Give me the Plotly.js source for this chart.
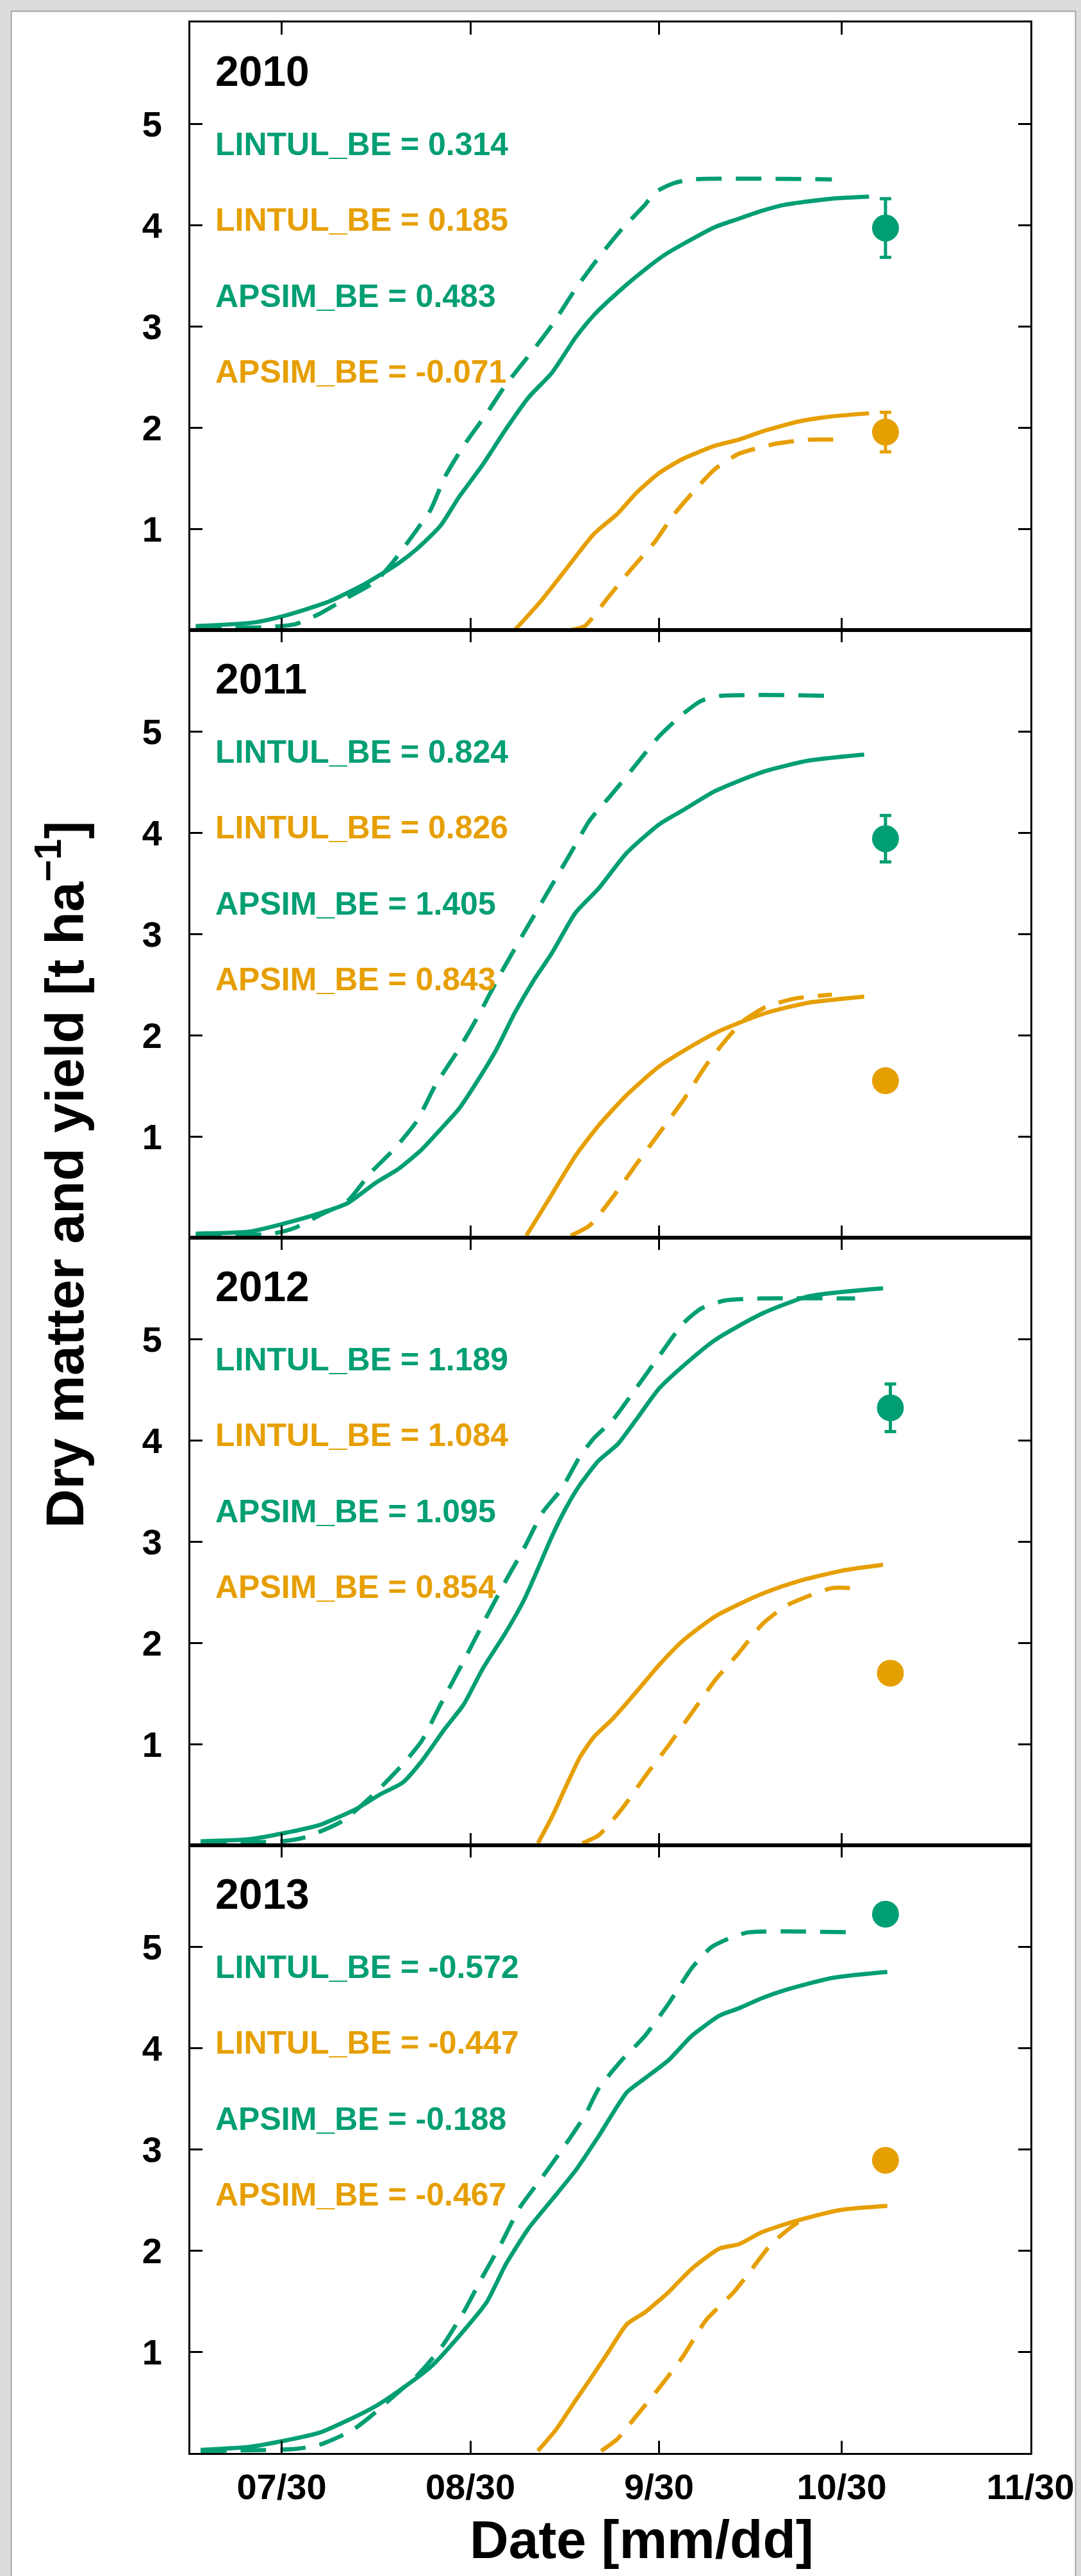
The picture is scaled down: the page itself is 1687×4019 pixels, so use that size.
<!DOCTYPE html>
<html>
<head>
<meta charset="utf-8">
<script src="https://cdn.plot.ly/plotly-3.0.1.min.js"></script>
<style>html,body{margin:0;padding:0;background:#fff;}#chart{width:1687px;height:4019px;}</style>
</head>
<body>
<div id="chart"></div>
<script>
// ---------------- DATA (x = day of year, y = t/ha) ----------------
const years = ['2010', '2011', '2012', '2013'];
const xTickVals = [211, 242, 273, 303, 334];
const xTickText = ['07/30', '08/30', '9/30', '10/30', '11/30'];
const yTickVals = [1, 2, 3, 4, 5];

// 2010
const doyGreenSolid2010 = [196.9, 206.5, 211.4, 218.7, 224.8, 230.2, 233.2, 237.1, 240.1, 244.0, 247.8, 251.6, 255.4, 259.3, 262.3, 266.9, 270.7, 273.8, 276.9, 282.2, 286.0, 289.9, 293.7, 301.4, 307.5];
const dmGreenSolid2010 = [0.04, 0.075, 0.14, 0.28, 0.46, 0.66, 0.80, 1.03, 1.31, 1.63, 1.98, 2.30, 2.54, 2.89, 3.11, 3.37, 3.56, 3.70, 3.81, 3.98, 4.06, 4.14, 4.20, 4.26, 4.28];
const doyGreenDash2010 = [196.9, 209.0, 213.3, 217.2, 221.8, 226.4, 229.4, 233.2, 235.5, 237.8, 240.9, 244.7, 247.8, 252.4, 255.4, 259.3, 263.1, 266.9, 270.7, 272.3, 275.3, 278.4, 301.4];
const dmGreenDash2010 = [0.02, 0.03, 0.06, 0.16, 0.32, 0.48, 0.68, 0.99, 1.19, 1.51, 1.82, 2.14, 2.42, 2.77, 3.01, 3.37, 3.68, 3.96, 4.20, 4.32, 4.41, 4.45, 4.45];
const doyOrangeSolid2010 = [249.3, 253.5, 257.7, 262.3, 266.2, 269.2, 273.0, 276.9, 282.2, 286.1, 289.9, 296.0, 301.4, 307.5];
const dmOrangeSolid2010 = [0.0, 0.28, 0.60, 0.95, 1.15, 1.35, 1.55, 1.69, 1.82, 1.88, 1.96, 2.06, 2.11, 2.14];
const doyOrangeDash2010 = [258.5, 260.8, 264.6, 268.4, 272.3, 275.3, 278.4, 282.2, 286.1, 292.2, 297.5, 302.5];
const dmOrangeDash2010 = [0.0, 0.04, 0.32, 0.60, 0.87, 1.13, 1.35, 1.59, 1.74, 1.84, 1.88, 1.88];

// 2011
const doyGreenSolid2011 = [196.9, 205.7, 211.4, 217.2, 221.8, 226.4, 230.2, 234.0, 237.1, 240.1, 243.2, 246.3, 249.3, 252.4, 255.4, 259.3, 263.1, 267.7, 273.0, 276.9, 282.2, 286.1, 290.6, 297.5, 306.7];
const dmGreenSolid2011 = [0.04, 0.06, 0.14, 0.24, 0.34, 0.54, 0.68, 0.87, 1.07, 1.27, 1.55, 1.86, 2.22, 2.54, 2.81, 3.21, 3.45, 3.80, 4.08, 4.22, 4.41, 4.51, 4.61, 4.71, 4.77];
const doyGreenDash2011 = [196.9, 209.5, 213.3, 217.2, 221.8, 225.6, 229.4, 233.2, 236.3, 240.1, 243.2, 247.0, 250.8, 254.7, 258.5, 261.6, 265.4, 269.2, 273.0, 276.9, 279.9, 283.0, 302.1];
const dmGreenDash2011 = [0.02, 0.04, 0.10, 0.22, 0.36, 0.64, 0.87, 1.15, 1.51, 1.86, 2.18, 2.61, 3.01, 3.41, 3.80, 4.12, 4.39, 4.67, 4.95, 5.17, 5.30, 5.35, 5.35];
const doyOrangeSolid2011 = [251.2, 254.7, 259.3, 263.1, 267.7, 273.0, 276.9, 282.2, 286.1, 290.6, 297.5, 306.7];
const dmOrangeSolid2011 = [0.02, 0.36, 0.81, 1.11, 1.41, 1.69, 1.84, 2.02, 2.12, 2.22, 2.32, 2.38];
const doyOrangeDash2011 = [258.5, 261.6, 265.4, 269.2, 273.0, 276.9, 280.7, 283.8, 286.8, 290.6, 295.2, 301.4];
const dmOrangeDash2011 = [0.02, 0.12, 0.40, 0.72, 1.03, 1.35, 1.70, 1.94, 2.14, 2.28, 2.36, 2.40];

// 2012
const doyGreenSolid2012 = [197.7, 205.7, 211.4, 217.2, 223.3, 227.1, 230.9, 234.0, 237.8, 240.9, 244.0, 247.8, 250.8, 253.1, 255.4, 257.7, 260.0, 263.1, 266.2, 269.2, 273.0, 276.9, 282.2, 289.9, 297.5, 309.8];
const dmGreenSolid2012 = [0.04, 0.06, 0.12, 0.20, 0.36, 0.50, 0.62, 0.83, 1.15, 1.39, 1.74, 2.10, 2.42, 2.73, 3.05, 3.33, 3.56, 3.80, 3.96, 4.20, 4.51, 4.73, 4.99, 5.25, 5.42, 5.50];
const doyGreenDash2012 = [197.7, 211.0, 214.9, 221.0, 226.4, 230.9, 234.0, 237.1, 240.9, 244.0, 247.8, 250.8, 253.9, 257.0, 260.0, 262.3, 265.4, 269.2, 273.0, 276.9, 279.9, 283.8, 289.9, 305.2];
const dmGreenDash2012 = [0.02, 0.04, 0.08, 0.24, 0.52, 0.80, 1.03, 1.39, 1.82, 2.18, 2.61, 2.93, 3.29, 3.52, 3.84, 4.02, 4.20, 4.51, 4.83, 5.15, 5.30, 5.38, 5.40, 5.40];
const doyOrangeSolid2012 = [253.1, 255.4, 257.7, 260.0, 262.3, 265.4, 269.2, 273.0, 276.9, 282.2, 286.1, 290.6, 296.0, 302.9, 309.8];
const dmOrangeSolid2012 = [0.02, 0.28, 0.58, 0.87, 1.07, 1.25, 1.51, 1.78, 2.02, 2.26, 2.38, 2.50, 2.61, 2.71, 2.77];
const doyOrangeDash2012 = [260.4, 263.1, 266.9, 270.7, 274.6, 278.4, 282.2, 286.1, 289.9, 293.7, 297.5, 301.4, 305.2];
const dmOrangeDash2012 = [0.02, 0.10, 0.36, 0.68, 0.99, 1.31, 1.63, 1.90, 2.18, 2.36, 2.46, 2.54, 2.54];

// 2013
const doyGreenSolid2013 = [197.7, 205.7, 211.4, 217.2, 222.5, 226.4, 230.9, 235.5, 240.1, 244.7, 247.8, 251.6, 255.4, 259.3, 263.1, 267.7, 270.7, 274.6, 278.4, 283.0, 286.1, 289.9, 293.7, 301.4, 310.5];
const dmGreenSolid2013 = [0.03, 0.06, 0.12, 0.20, 0.34, 0.46, 0.64, 0.85, 1.15, 1.49, 1.86, 2.22, 2.50, 2.79, 3.13, 3.56, 3.70, 3.88, 4.12, 4.32, 4.39, 4.49, 4.57, 4.69, 4.75];
const doyGreenDash2013 = [197.7, 213.3, 217.2, 222.5, 225.6, 229.4, 233.2, 237.1, 240.9, 244.0, 247.0, 250.1, 253.9, 257.7, 260.8, 263.1, 266.9, 270.7, 274.6, 278.4, 281.5, 284.5, 287.6, 305.2];
const dmGreenDash2013 = [0.02, 0.04, 0.08, 0.22, 0.36, 0.56, 0.76, 1.03, 1.39, 1.74, 2.06, 2.42, 2.73, 3.05, 3.33, 3.60, 3.88, 4.12, 4.44, 4.79, 4.99, 5.08, 5.14, 5.14];
const doyOrangeSolid2013 = [253.1, 256.2, 259.3, 261.6, 264.6, 267.7, 270.7, 274.6, 278.4, 283.0, 286.1, 289.9, 296.0, 302.9, 310.5];
const dmOrangeSolid2013 = [0.02, 0.24, 0.52, 0.72, 0.99, 1.27, 1.39, 1.59, 1.82, 2.02, 2.06, 2.18, 2.30, 2.40, 2.44];
const doyOrangeDash2013 = [263.5, 266.2, 269.2, 273.0, 276.9, 280.7, 285.3, 288.3, 291.4, 294.5, 296.4];
const dmOrangeDash2013 = [0.02, 0.14, 0.36, 0.64, 0.95, 1.31, 1.59, 1.82, 2.06, 2.22, 2.30];

// observations (harvest)
const obsDoy = [310.2, 310.2, 311.0, 310.2];
const obsGreen = [3.97, 3.94, 4.32, 5.32];
const obsGreenErr = [0.29, 0.23, 0.235, 0];
const obsOrange = [1.955, 1.55, 1.70, 2.89];
const obsOrangeErr = [0.195, 0, 0.08, 0];

// statistics shown in each panel
const lintulGreen = ['0.314', '0.824', '1.189', '-0.572'];
const lintulOrange = ['0.185', '0.826', '1.084', '-0.447'];
const apsimGreen = ['0.483', '1.405', '1.095', '-0.188'];
const apsimOrange = ['-0.071', '0.843', '0.854', '-0.467'];

// ---------------- BUILD ----------------
const GREEN = '#009E73', ORANGE = '#E69F00';
const FONT = 'Liberation Sans, Arial, Helvetica, sans-serif';
const series = [
  [doyGreenSolid2010, dmGreenSolid2010, doyGreenDash2010, dmGreenDash2010, doyOrangeSolid2010, dmOrangeSolid2010, doyOrangeDash2010, dmOrangeDash2010],
  [doyGreenSolid2011, dmGreenSolid2011, doyGreenDash2011, dmGreenDash2011, doyOrangeSolid2011, dmOrangeSolid2011, doyOrangeDash2011, dmOrangeDash2011],
  [doyGreenSolid2012, dmGreenSolid2012, doyGreenDash2012, dmGreenDash2012, doyOrangeSolid2012, dmOrangeSolid2012, doyOrangeDash2012, dmOrangeDash2012],
  [doyGreenSolid2013, dmGreenSolid2013, doyGreenDash2013, dmGreenDash2013, doyOrangeSolid2013, dmOrangeSolid2013, doyOrangeDash2013, dmOrangeDash2013]
];

const W = 1687, H = 4019;
const M = {l: 297, r: 79, t: 35, b: 192};
const PW = W - M.l - M.r, PH = H - M.t - M.b;
const px2x = p => (p - M.l) / PW;
const py2y = p => (H - M.b - p) / PH;

const DASH = '40px,22px';
const LW = 6.5;
const traces = [];
const annotations = [];
const layout = {
  width: W, height: H,
  margin: M,
  paper_bgcolor: '#ffffff', plot_bgcolor: '#ffffff',
  showlegend: false,
  font: {family: FONT, color: '#000'},
  annotations: annotations,
  shapes: []
};

years.forEach((yr, i) => {
  const sfx = i === 0 ? '' : String(i + 1);
  const xa = 'x' + sfx, ya = 'y' + sfx;
  const s = series[i];
  const mk = (x, y, color, dash) => ({
    x: x, y: y, xaxis: xa, yaxis: ya, type: 'scatter', mode: 'lines',
    line: {color: color, width: LW, dash: dash, shape: 'spline', smoothing: 0.6},
    hoverinfo: 'skip'
  });
  traces.push(mk(s[0], s[1], GREEN, 'solid'));
  traces.push(mk(s[2], s[3], GREEN, DASH));
  traces.push(mk(s[4], s[5], ORANGE, 'solid'));
  traces.push(mk(s[6], s[7], ORANGE, DASH));
  traces.push({
    x: [obsDoy[i]], y: [obsGreen[i]], xaxis: xa, yaxis: ya, type: 'scatter', mode: 'markers',
    marker: {color: GREEN, size: 42},
    error_y: {type: 'data', array: [obsGreenErr[i]], visible: obsGreenErr[i] > 0, color: GREEN, thickness: 5, width: 9},
    cliponaxis: false, hoverinfo: 'skip'
  });
  traces.push({
    x: [obsDoy[i]], y: [obsOrange[i]], xaxis: xa, yaxis: ya, type: 'scatter', mode: 'markers',
    marker: {color: ORANGE, size: 42},
    error_y: {type: 'data', array: [obsOrangeErr[i]], visible: obsOrangeErr[i] > 0, color: ORANGE, thickness: 5, width: 9},
    cliponaxis: false, hoverinfo: 'skip'
  });

  const top = 1 - i * 0.25, bot = 1 - (i + 1) * 0.25;
  layout['xaxis' + sfx] = {
    domain: [0, 1], anchor: ya, range: [196, 334],
    tickmode: 'array', tickvals: xTickVals, ticktext: xTickText,
    showticklabels: i === 3,
    ticks: 'inside', ticklen: 19, tickwidth: 3, tickcolor: '#000',
    showline: true, linecolor: '#000', linewidth: 3, mirror: 'ticks',
    showgrid: false, zeroline: false, fixedrange: true,
    tickfont: {family: FONT, size: 56, color: '#000', weight: 'bold'},
    ticklabelstandoff: 2
  };
  layout['yaxis' + sfx] = {
    domain: [bot, top], anchor: xa, range: [0, 6],
    tickmode: 'array', tickvals: yTickVals, ticktext: yTickVals.map(String),
    ticks: 'inside', ticklen: 19, tickwidth: 3, tickcolor: '#000',
    showline: true, linecolor: '#000', linewidth: 3, mirror: 'ticks',
    showgrid: false, zeroline: false, fixedrange: true,
    tickfont: {family: FONT, size: 56, color: '#000', weight: 'bold'},
    ticklabelstandoff: 30
  };

  const ann = (text, y, color, size) => ({
    text: text, x: 199.9, y: y, xref: xa, yref: ya,
    xanchor: 'left', yanchor: 'middle', showarrow: false,
    font: {family: FONT, size: size, color: color, weight: 'bold'}
  });
  annotations.push(ann(yr, 5.52, '#000', 66));
  annotations.push(ann('LINTUL_BE = ' + lintulGreen[i], 4.80, GREEN, 50));
  annotations.push(ann('LINTUL_BE = ' + lintulOrange[i], 4.05, ORANGE, 50));
  annotations.push(ann('APSIM_BE = ' + apsimGreen[i], 3.30, GREEN, 50));
  annotations.push(ann('APSIM_BE = ' + apsimOrange[i], 2.55, ORANGE, 50));
});

// axis titles
annotations.push({
  text: 'Dry matter and yield [t ha<sup>\u22121</sup>]', textangle: -90,
  xref: 'paper', yref: 'paper', x: px2x(95), y: py2y(1833),
  xanchor: 'center', yanchor: 'middle', showarrow: false,
  font: {family: FONT, size: 84, color: '#000', weight: 'bold'}
});
annotations.push({
  text: 'Date [mm/dd]',
  xref: 'paper', yref: 'paper', x: px2x(1001), y: py2y(3962),
  xanchor: 'center', yanchor: 'middle', showarrow: false,
  font: {family: FONT, size: 84, color: '#000', weight: 'bold'}
});

// grey page frame
const frameFill = '#dcdcdc', frameLine = '#a4a4a4';
const rect = (x0, y0, x1, y1) => ({type: 'rect', xref: 'paper', yref: 'paper', layer: 'above',
  x0: px2x(x0), x1: px2x(x1), y0: py2y(y1), y1: py2y(y0), fillcolor: frameFill, line: {width: 0}});
const seg = (x0, y0, x1, y1) => ({type: 'line', xref: 'paper', yref: 'paper', layer: 'above',
  x0: px2x(x0), x1: px2x(x1), y0: py2y(y0), y1: py2y(y1), line: {color: frameLine, width: 2}});
layout.shapes.push(rect(-5, -5, 17, H + 5));
layout.shapes.push(rect(-5, -5, W + 5, 17));
layout.shapes.push(rect(1679, -5, W + 5, H + 5));
layout.shapes.push(seg(17.5, 17, 17.5, H + 5));
layout.shapes.push(seg(17, 17.5, 1679, 17.5));
layout.shapes.push(seg(1678.5, 17, 1678.5, H + 5));

Plotly.newPlot('chart', traces, layout, {staticPlot: true, displayModeBar: false});
</script>
</body>
</html>
